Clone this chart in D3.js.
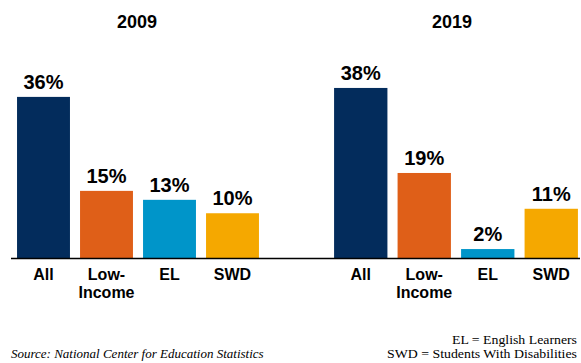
<!DOCTYPE html>
<html>
<head>
<meta charset="utf-8">
<script src="https://cdn.jsdelivr.net/npm/d3@7"></script>
<style>
  html, body { margin: 0; padding: 0; background: #fff; }
  svg { display: block; }
</style>
</head>
<body>
<svg id="chart" width="581" height="363"></svg>
<script>
// Student groups shown in each panel
const categories = ["All", "Low-Income", "EL", "SWD"];
const categoryLines = [["All"], ["Low-", "Income"], ["EL"], ["SWD"]];
const years = ["2009", "2019"];
// Percent values per group, one array per year
const values2009 = [36, 15, 13, 10];
const values2019 = [38, 19, 2, 11];
const colors = ["#032c5c", "#df5f18", "#0095c9", "#f5a800"];

const svg = d3.select("#chart");
const baseY = 258;
const y = d3.scaleLinear().domain([0, 40]).range([baseY, baseY - 179]);

const panels = [
  { year: years[0], values: values2009, range: [12, 264], titleX: 137 },
  { year: years[1], values: values2019, range: [329, 583], titleX: 452 }
];

panels.forEach(p => {
  const x = d3.scaleBand().domain(categories).range(p.range)
    .paddingInner(0.16).paddingOuter(0.08);
  const g = svg.append("g");

  g.append("text")
    .attr("x", p.titleX).attr("y", 28)
    .attr("text-anchor", "middle")
    .attr("font-family", "Liberation Sans, Arial, sans-serif")
    .attr("font-weight", "bold").attr("font-size", 18)
    .attr("fill", "#000")
    .text(p.year);

  const data = categories.map((c, i) => ({ c, v: p.values[i], color: colors[i], lines: categoryLines[i] }));

  g.selectAll("rect").data(data).join("rect")
    .attr("x", d => x(d.c))
    .attr("y", d => y(d.v))
    .attr("width", x.bandwidth())
    .attr("height", d => y(0) - y(d.v))
    .attr("fill", d => d.color);

  g.selectAll("text.val").data(data).join("text")
    .attr("class", "val")
    .attr("x", d => x(d.c) + x.bandwidth() / 2)
    .attr("y", d => y(d.v) - 8)
    .attr("text-anchor", "middle")
    .attr("font-family", "Liberation Sans, Arial, sans-serif")
    .attr("font-weight", "bold").attr("font-size", 20)
    .attr("fill", "#000")
    .text(d => d.v + "%");

  const cat = g.selectAll("text.cat").data(data).join("text")
    .attr("class", "cat")
    .attr("text-anchor", "middle")
    .attr("font-family", "Liberation Sans, Arial, sans-serif")
    .attr("font-weight", "bold").attr("font-size", 16)
    .attr("fill", "#000");
  cat.each(function(d) {
    const t = d3.select(this);
    d.lines.forEach((line, j) => {
      t.append("tspan")
        .attr("x", x(d.c) + x.bandwidth() / 2)
        .attr("y", 280 + j * 18)
        .text(line);
    });
  });
});

// Shared baseline
svg.append("line")
  .attr("x1", 11).attr("x2", 580)
  .attr("y1", baseY + 0.5).attr("y2", baseY + 0.5)
  .attr("stroke", "#000").attr("stroke-width", 1.6);

// Footer notes
svg.append("text")
  .attr("x", 11).attr("y", 358)
  .attr("font-family", "Liberation Serif, Times New Roman, serif")
  .attr("font-style", "italic").attr("font-size", 13)
  .attr("fill", "#000")
  .text("Source: National Center for Education Statistics");

svg.append("text")
  .attr("x", 452).attr("y", 344)
  .attr("textLength", 125).attr("lengthAdjust", "spacingAndGlyphs")
  .attr("font-family", "Liberation Serif, Times New Roman, serif")
  .attr("font-size", 13).attr("fill", "#000")
  .text("EL = English Learners");

svg.append("text")
  .attr("x", 387).attr("y", 358)
  .attr("textLength", 190).attr("lengthAdjust", "spacingAndGlyphs")
  .attr("font-family", "Liberation Serif, Times New Roman, serif")
  .attr("font-size", 13).attr("fill", "#000")
  .text("SWD = Students With Disabilities");
</script>
</body>
</html>
